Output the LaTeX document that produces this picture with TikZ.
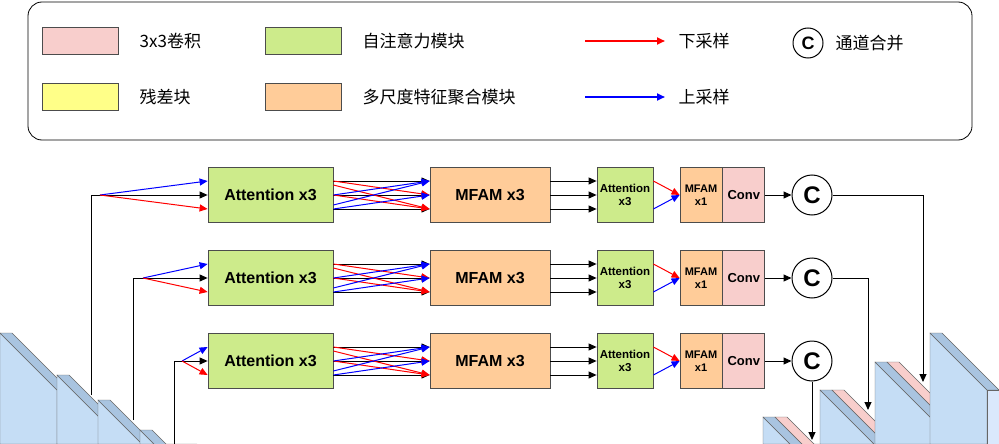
\documentclass[tikz,border=0pt]{standalone}
\usepackage{fontspec}
\setmainfont{Liberation Sans}
\newfontfamily\cjk{Noto Sans CJK SC}
\usetikzlibrary{positioning,arrows.meta}
\tikzset{
  blk/.style = {draw=black!70, line width=0.8pt, minimum height=55pt, font=\bfseries\fontsize{16}{17}\selectfont, inner sep=0pt},
  att/.style = {blk, fill=attg},
  mfam/.style = {blk, fill=mfamo},
  conv/.style = {blk, fill=convp},
  cat/.style = {circle, draw, line width=1pt, minimum size=40pt, inner sep=0pt, font=\bfseries\fontsize{24}{24}\selectfont},
  arr/.style = {-{Triangle[length=8pt,width=7pt]}, line width=1pt},
  key/.style = {draw=black!70, minimum width=76pt, minimum height=27pt},
  keytxt/.style = {anchor=west, font=\cjk\fontsize{17}{17}\selectfont}
}
\definecolor{attg}{HTML}{CDEB8B}
\definecolor{mfamo}{HTML}{FFCC99}
\definecolor{convp}{HTML}{F8CECC}
\definecolor{resy}{HTML}{FFFF88}
\definecolor{slabl}{HTML}{C5DDF5}
\definecolor{slabm}{HTML}{A9C4E0}
\definecolor{slabf}{HTML}{DAE8FC}
\newcommand{\encslab}[2]{% x0, y0
  \fill[slabl, draw=black!60] (#1,#2) -- (#1+57,#2+57) -- (#1+57,444) -- (#1,444) -- cycle;
  \fill[slabm, draw=black!60] (#1,#2) -- (#1+12,#2) -- (#1+69,#2+57) -- (#1+57,#2+57) -- cycle;
  \fill[slabf, draw=black!60] (#1+57,#2+57) rectangle (#1+69,444);}
\newcommand{\decslab}[2]{% x0, y0
  \fill[slabl, draw=black!60] (#1,#2) -- (#1+57,#2+57) -- (#1+57,444) -- (#1,444) -- cycle;
  \fill[slabm, draw=black!60] (#1,#2) -- (#1+12,#2) -- (#1+69,#2+57) -- (#1+57,#2+57) -- cycle;
  \fill[convp, draw=black!60] (#1+12,#2) -- (#1+24,#2) -- (#1+81,#2+57) -- (#1+69,#2+57) -- cycle;
  \fill[slabf, draw=black!60] (#1+57,#2+57) rectangle (#1+69,444);
  \fill[convp, draw=black!60] (#1+69,#2+57) rectangle (#1+81,444);}
\begin{document}
\begin{tikzpicture}[x=1pt, y=-1pt]
\useasboundingbox (0,0) rectangle (999,444);
% legend
\draw[rounded corners=14pt, line width=0.8pt] (28,2) rectangle (972,140);
\node[key, fill=convp] (k1) at (80,41) {};
\node[keytxt, right=18pt of k1] (k1t) {3x3卷积};
\node[key, fill=attg] (k2) at (303,41) {};
\node[keytxt, right=18pt of k2] (k2t) {自注意力模块};
\node[key, fill=resy] (k3) at (80,97) {};
\node[keytxt, right=18pt of k3] (k3t) {残差块};
\node[key, fill=mfamo] (k4) at (303,97) {};
\node[keytxt, right=18pt of k4] (k4t) {多尺度特征聚合模块};
\coordinate (r0) at (585,41); \coordinate (r1) at (665,41);
\draw[arr, red, line width=2.5pt] (r0) -- (r1);
\node[keytxt] (k5t) at (675,41) {下采样};
\coordinate (b0) at (585,97); \coordinate (b1) at (665,97);
\draw[arr, blue, line width=2.5pt] (b0) -- (b1);
\node[keytxt] (k6t) at (675,97) {上采样};
\node[cat, minimum size=30pt, font=\bfseries\fontsize{18}{18}\selectfont] (kc) at (808,43) {C};
\node[keytxt] (kct) at (832,43) {通道合并};
% encoder / decoder slabs
\encslab{0}{333}
\encslab{57}{375}
\encslab{98}{400}
\encslab{140}{430}
\decslab{763}{417}
\decslab{820}{390}
\decslab{875}{362}
\encslab{930}{333}
% rows
\foreach \i/\y/\xv/\xf/\yb/\xo/\yo in {1/195/91/100/395/923/382, 2/278/133/143/420/868/410, 3/361/174/182/444/812/440}{
  \node[att, minimum width=125pt] (a\i) at (270.5,\y) {Attention x3};
  \node[mfam, minimum width=120pt] (m\i) at (490,\y) {MFAM x3};
  \node[att, minimum width=56pt, font=\bfseries\fontsize{11.5}{13}\selectfont, align=center] (s\i) at (625,\y) {Attention\\x3};
  \node[mfam, minimum width=42pt, font=\bfseries\fontsize{11}{13}\selectfont, align=center] (f\i) at (701,\y) {MFAM\\x1};
  \node[conv, minimum width=42pt, right=0pt of f\i, font=\bfseries\fontsize{13}{14}\selectfont] (c\i) {Conv};
  \node[cat] (o\i) at (812,\y) {C};
  % input fan
  \coordinate (in\i) at (\xv,\yb);
  \coordinate (fan\i) at (\xf,\y);
  \draw[line width=1pt] (in\i) |- (fan\i);
  \draw[arr] (fan\i) -- (a\i.west);
  \draw[arr, blue] (fan\i) -- ([yshift=14pt]a\i.west);
  \draw[arr, red] (fan\i) -- ([yshift=-14pt]a\i.west);
  % attention -> mfam
  \foreach \d in {-14,0,14} \draw[arr] ([yshift=\d pt]a\i.east) -- ([yshift=\d pt]m\i.west);
  \draw[arr, red] ([yshift=14pt]a\i.east) -- (m\i.west);
  \draw[arr, red] (a\i.east) -- ([yshift=-14pt]m\i.west);
  \draw[arr, red] ([yshift=10pt]a\i.east) -- ([yshift=-14pt]m\i.west);
  \draw[arr, blue] ([yshift=-14pt]a\i.east) -- (m\i.west);
  \draw[arr, blue] (a\i.east) -- ([yshift=14pt]m\i.west);
  \draw[arr, blue] ([yshift=-10pt]a\i.east) -- ([yshift=14pt]m\i.west);
  % mfam -> small attention
  \foreach \d in {-14,0,14} \draw[arr] ([yshift=\d pt]m\i.east) -- ([yshift=\d pt]s\i.west);
  \draw[arr, red] ([yshift=14pt]s\i.east) -- (f\i.west);
  \draw[arr, blue] ([yshift=-14pt]s\i.east) -- (f\i.west);
  \draw[arr] (c\i) -- (o\i);
  \coordinate (out\i) at (\xo,\yo);
}
\draw[arr] (o1) -| (out1);
\draw[arr] (o2) -| (out2);
\draw[arr] (o3) -- (out3);
\end{tikzpicture}
\end{document}
